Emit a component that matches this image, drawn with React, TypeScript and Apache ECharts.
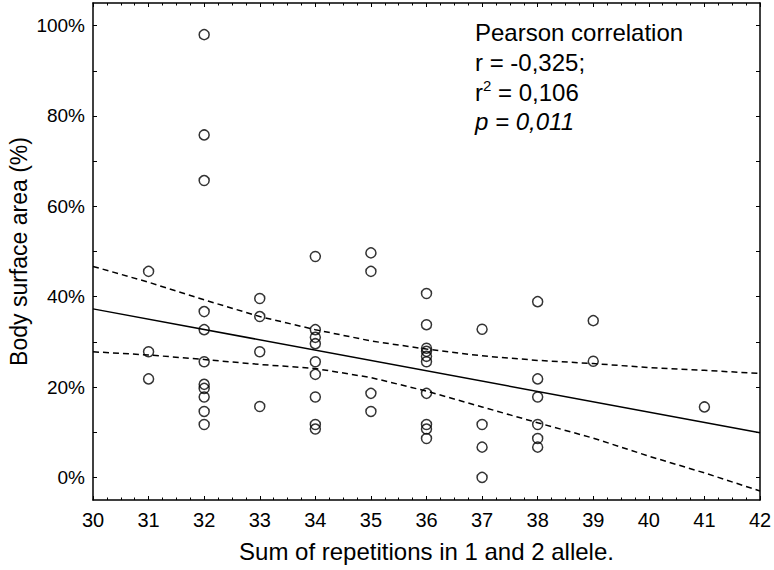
import React, { useEffect, useRef } from "react";
import * as echarts from "echarts";

// scatter points grouped by sum of repetitions (x); values are body surface area %
const groupX = [31, 32, 33, 34, 35, 36, 37, 38, 39, 41];
const groupY = [
  [45.6, 27.8, 21.8],
  [98, 75.8, 65.7, 36.7, 32.7, 25.6, 20.6, 19.7, 17.8, 14.6, 11.7],
  [39.6, 35.6, 27.8, 15.7],
  [48.9, 32.7, 31, 29.6, 25.6, 22.8, 17.8, 11.7, 10.7],
  [49.7, 45.6, 18.6, 14.6],
  [40.7, 33.8, 28.6, 27.9, 26.8, 25.6, 18.6, 11.7, 10.7, 8.6],
  [32.8, 11.7, 6.7, 0],
  [38.9, 21.8, 17.8, 11.7, 8.6, 6.7],
  [34.7, 25.7],
  [15.6],
];

// regression line
const fitX = [30, 42];
const fitY = [37.3, 9.9];

// confidence band
const bandX = [30, 31, 32, 33, 34, 35, 36, 37, 38, 39, 40, 41, 42];
const upperBand = [46.7, 43.2, 39.3, 35.6, 32.7, 30.2, 28.4, 26.9, 25.9, 25.2, 24.3, 23.7, 23.0];
const lowerBand = [27.8, 27.1, 26.1, 25.0, 24.1, 22.1, 19.1, 15.6, 12.1, 8.7, 4.7, 1.0, -3.0];

const yLabelValues = [0, 20, 40, 60, 80, 100];
const yTickValues = [0, 10, 20, 30, 40, 50, 60, 70, 80, 90, 100];

const annotation = ["Pearson correlation", "r = -0,325;", "= 0,106", "p = 0,011"];

const FONT = "Liberation Sans, Arial, sans-serif";

export default function App() {
  const ref = useRef<HTMLDivElement>(null);
  useEffect(() => {
    document.body.style.margin = "0";
    const chart = echarts.init(ref.current!, null, { renderer: "svg" });
    const scatterData: number[][] = [];
    groupX.forEach((x, i) => groupY[i].forEach((y) => scatterData.push([x, y])));
    const fitData = fitX.map((x, i) => [x, fitY[i]]);
    const upData = bandX.map((x, i) => [x, upperBand[i]]);
    const lowData = bandX.map((x, i) => [x, lowerBand[i]]);

    const xBase = (position: string, showLabel: boolean) => ({
      type: "value",
      position,
      min: 30,
      max: 42,
      interval: 1,
      axisLine: { show: true, onZero: false, lineStyle: { color: "#000", width: 1.5 } },
      axisTick: { show: true, inside: true, length: 4, lineStyle: { color: "#000", width: 1 } },
      minorTick: { show: true, splitNumber: 4, length: 2.5, lineStyle: { color: "#000", width: 1 } },
      splitLine: { show: false },
      axisLabel: {
        show: showLabel,
        color: "#000",
        fontSize: 20,
        fontFamily: FONT,
        margin: 10,
      },
    });
    const yBase = (position: string, showLabel: boolean) => ({
      type: "value",
      position,
      min: -5,
      max: 105,
      axisLine: { show: true, onZero: false, lineStyle: { color: "#000", width: 1.5 } },
      axisTick: {
        show: true,
        inside: true,
        length: 4,
        customValues: yTickValues,
        lineStyle: { color: "#000", width: 1 },
      },
      splitLine: { show: false },
      axisLabel: {
        show: showLabel,
        customValues: yLabelValues,
        formatter: (v: number) => v + "%",
        color: "#000",
        fontSize: 19,
        fontFamily: FONT,
        margin: 8,
      },
    });

    const txt = (left: number, top: number, text: string, font: string) => ({
      type: "text",
      left,
      top,
      style: { text, font, fill: "#000" },
    });

    chart.setOption({
      animation: false,
      backgroundColor: "#fff",
      grid: {
        left: 93,
        right: 14,
        top: 3,
        bottom: 70,
        containLabel: false,
        outerBoundsMode: "none",
      },
      xAxis: [
        {
          ...xBase("bottom", true),
          name: "Sum of repetitions in 1 and 2 allele.",
          nameLocation: "middle",
          nameGap: 39,
          nameTextStyle: { color: "#000", fontSize: 24, fontFamily: FONT },
        },
        xBase("top", false),
      ],
      yAxis: [
        {
          ...yBase("left", true),
          name: "Body surface area (%)",
          nameLocation: "middle",
          nameGap: 63,
          nameMoveOverlap: false,
          nameTextStyle: { color: "#000", fontSize: 23, fontFamily: FONT },
        },
        yBase("right", false),
      ],
      series: [
        {
          type: "line",
          data: upData,
          symbol: "none",
          lineStyle: { color: "#000", width: 1.5, type: [6, 4] },
          silent: true,
        },
        {
          type: "line",
          data: lowData,
          symbol: "none",
          lineStyle: { color: "#000", width: 1.5, type: [6, 4] },
          silent: true,
        },
        {
          type: "line",
          data: fitData,
          symbol: "none",
          lineStyle: { color: "#000", width: 1.5 },
          silent: true,
        },
        {
          type: "scatter",
          data: scatterData,
          symbol: "circle",
          symbolSize: 10,
          itemStyle: { color: "rgba(255,255,255,0)", borderColor: "#000", borderWidth: 1.5 },
        },
      ],
      graphic: [
        txt(475, 20, annotation[0], "24px " + FONT),
        txt(475, 50, annotation[1], "24px " + FONT),
        txt(475, 80, "r", "24px " + FONT),
        txt(483, 78, "2", "15px " + FONT),
        txt(498, 80, annotation[2], "24px " + FONT),
        txt(475, 109, annotation[3], "italic 24px " + FONT),
      ],
    });
    return () => chart.dispose();
  }, []);
  return <div ref={ref} style={{ width: 774, height: 570 }} />;
}
